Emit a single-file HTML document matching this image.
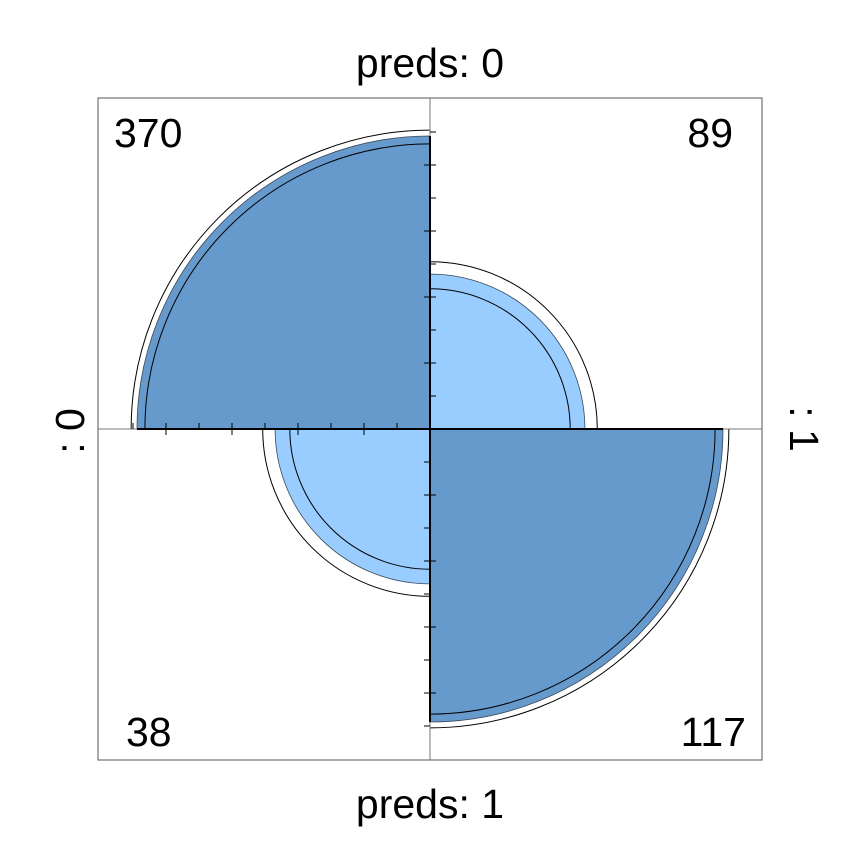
<!DOCTYPE html>
<html><head><meta charset="utf-8"><style>body{margin:0;background:#fff}svg{display:block}text{font-family:"Liberation Sans",sans-serif;fill:#000}</style></head>
<body>
<svg id="c" width="860" height="860">
<rect x="98" y="98" width="664" height="662" fill="none" stroke="#555" stroke-width="1"/>
<text x="430" y="77" font-size="41" text-anchor="middle">preds: 0</text>
<text x="430" y="818" font-size="41" text-anchor="middle">preds: 1</text>
<text transform="translate(84,431) rotate(-90)" font-size="41" text-anchor="middle">: 0</text>
<text transform="translate(790,429) rotate(90)" font-size="41" text-anchor="middle">: 1</text>
<g id="wedges"></g>
<g id="axes"></g>
</svg>
<script>
const counts = [370, 89, 38, 117]; // TL, TR, BL, BR
const ciInner = [0.973, 0.905, 0.905, 0.973];
const ciOuter = [1.02, 1.08, 1.08, 1.02];
const cx = 430, cy = 429, R = 293;
const NS = "http://www.w3.org/2000/svg";
const svg = document.getElementById("c");
const wg = document.getElementById("wedges"), ag = document.getElementById("axes");
const sor = Math.sqrt(counts[0] * counts[3] / (counts[1] * counts[2]));
const pd = sor / (1 + sor), po = 1 / (1 + sor);
const std = [pd, po, po, pd];
const maxp = Math.max(...std);
const dirs = [[-1, -1], [1, -1], [-1, 1], [1, 1]];
function wedge(q, r) {
  const [dx, dy] = dirs[q];
  const sweep = (dx * dy > 0) ? 1 : 0;
  return `M${cx},${cy} L${cx + dx * r},${cy} A${r},${r} 0 0 ${sweep} ${cx},${cy + dy * r} Z`;
}
function arc(q, r) {
  const [dx, dy] = dirs[q];
  const sweep = (dx * dy > 0) ? 1 : 0;
  return `M${cx + dx * r},${cy} A${r},${r} 0 0 ${sweep} ${cx},${cy + dy * r}`;
}
const names = ["top-left", "top-right", "bottom-left", "bottom-right"];
counts.forEach((v, q) => {
  const r = R * Math.sqrt(std[q] / maxp);
  const diag = (q === 0 || q === 3);
  const p = document.createElementNS(NS, "path");
  p.setAttribute("d", wedge(q, r));
  p.setAttribute("fill", diag ? "#6699CC" : "#99CCFF");
  p.setAttribute("stroke", "#3a4a5a");
  p.setAttribute("stroke-width", "0.8");
  
  
  wg.appendChild(p);
  [ciInner[q], ciOuter[q]].forEach((f, i) => {
    const a = document.createElementNS(NS, "path");
    a.setAttribute("d", arc(q, r * f));
    a.setAttribute("fill", "none");
    a.setAttribute("stroke", "#000");
    a.setAttribute("stroke-width", "1");
    
    
    wg.appendChild(a);
  });
  const t = document.createElementNS(NS, "text");
  const left = q % 2 === 0;
  t.setAttribute("x", q === 0 ? 114 : q === 2 ? 126 : q === 1 ? 733 : 746);
  t.setAttribute("y", q < 2 ? 147 : 746);
  t.setAttribute("font-size", "41");
  t.setAttribute("text-anchor", left ? "start" : "end");
  t.textContent = v;
  
  
  svg.appendChild(t);
});
function line(x1, y1, x2, y2, c, w, n) {
  const l = document.createElementNS(NS, "line");
  l.setAttribute("x1", x1); l.setAttribute("y1", y1); l.setAttribute("x2", x2); l.setAttribute("y2", y2);
  l.setAttribute("stroke", c); l.setAttribute("stroke-width", w);
  
  
  ag.appendChild(l);
}
line(98, cy, 762, cy, "#777", 1, "horizontal-axis");
line(cx, 98, cx, 760, "#777", 1, "vertical-axis");
const rTL = R * Math.sqrt(std[0] / maxp), rBR = R * Math.sqrt(std[3] / maxp);
line(cx - rTL, cy, cx + rBR, cy, "#000", 2, "horizontal-axis-bold");
line(cx, cy - rTL, cx, cy + rBR, "#000", 2, "vertical-axis-bold");
const step = 33;
for (let k = 1; k <= 9; k++) {
  const d = k * step, major = k % 2 === 0;
  line(cx - d, cy - 6, cx - d, major ? cy + 6 : cy, "#000", 1, "tick-left");
  line(cx + (major ? -6 : 0), cy - d, cx + 6, cy - d, "#000", 1, "tick-up");
  line(cx - 6, cy + d, cx + (major ? 6 : 0), cy + d, "#000", 1, "tick-down");
}
</script>
</body></html>
